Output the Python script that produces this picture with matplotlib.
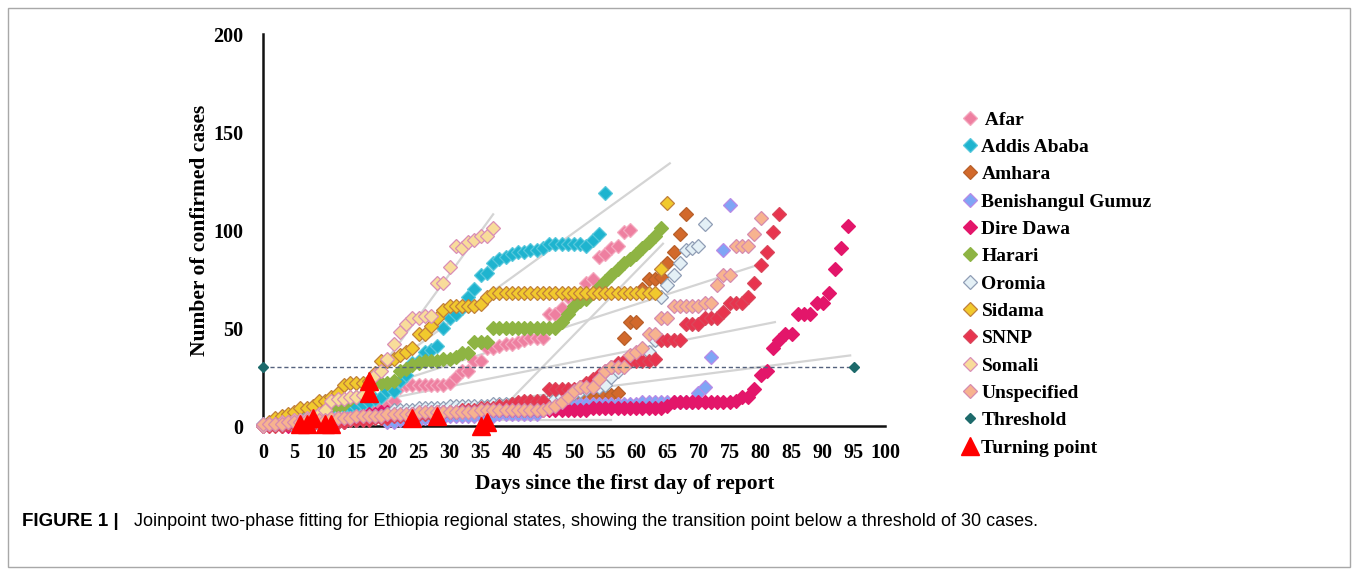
import matplotlib
matplotlib.use('Agg')
import matplotlib.pyplot as plt
import numpy as np
from matplotlib.patches import Rectangle

# cumulative confirmed cases per region, one value per day from the start day
afar_start = 0
afar = [0, 0, 1, 1, 1, 2, 2, 2, 3, 3, 4, 4, 5, 5, 6, 7,
        8, 9, 10, 10, 10, 13, 20, 21, 21, 21, 21, 21, 21, 21, 22, 25, 28, 28, 33, 33,
        40, 40, 41, 42, 42, 43, 44, 45, 45, 45, 57, 57, 60, 66, 66, 66, 73, 75, 86, 88,
        91, 92, 99, 100]

addis_start = 0
addis = [1, 1, 2, 2, 3, 3, 4, 5, 6, 7, 8, 9, 10,
         10, 10, 10, 11, 12, 14, 15, 18, 18, 23, 26, 32, 33, 38, 39, 41, 50, 55, 57, 60,
         66, 70, 77, 78, 83, 85, 86, 88, 89, 89, 90, 90, 91, 93, 93, 93, 93, 93, 93, 92,
         95, 98, 119]

amhara_start = 5
amhara = [1, 1, 1, 2, 2, 2, 2, 3, 3, 3, 4, 4, 4, 5, 5, 5, 5, 6, 6, 6,
          6, 7, 7, 7, 7, 8, 8, 8, 8, 9, 9, 9, 10, 10, 10, 11, 11, 11, 12, 12,
          12, 13, 13, 13, 14, 14, 14, 15, 15, 15, 16, 16, 17,
          45, 53, 53, 70, 75, 75, 76, 83, 89, 98, 108]

benishangul_start = 20
benishangul = [2, 2, 3, 3, 3, 3, 4, 4, 4, 4, 5, 5, 5, 5, 5, 5, 5, 5, 6, 6, 6, 6, 6, 6, 6,
               10, 11, 11, 11, 11, 11, 11, 11, 11, 11, 11, 11, 11, 11, 11, 11, 12, 12, 12,
               12, 12, 12, 12, 12, 12,
               17, 20, 35, np.nan, 90, 113]

dire_dawa_start = 3
dire_dawa = [0, 0, 0, 1, 1, 1, 1, 2, 2, 2, 2, 3, 3,
             5, 6, 6, 7, 7, 7, 7, 7, 7, 7, 7, 7, 7, 7, 8, 8, 8, 8, 8, 8,
             8, 8, 8, 8, 8, 8, 8, 8, 8, 8, 8, 8, 8, 8, 8, 8, 8, 9, 9, 9,
             9, 9, 9, 9, 9, 9, 9, 9, 9, 10, 12, 12, 12, 12,
             12, 12, 12, 12, 12, 12, 13, 15, 15, 19, 26, 28, 40, 44, 47, 47, 57, 57, 57,
             63, 63, 68, 80, 91, 102]

harari_start = 5
harari = [2, 3, 4, 6, 8,
          10, 10, 10, 11, 14, 15, 16, 19, 22, 22, 22, 23, 28, 29, 31, 32, 33, 33, 33, 34,
          34, 35, 37, 37, 43, 43, 43, 50, 50, 50, 50, 50, 50, 50, 50, 50, 50, 50, 53, 57,
          61, 64, 65, 68, 71, 74, 77, 80, 83, 85, 88, 91, 94, 97, 101]

oromia_start = 5
oromia = [0, 0, 1, 1, 1, 2, 2, 2, 3, 3, 3, 4, 4, 5, 5, 6,
          8, 8, 8, 8, 9, 9, 9, 9, 9, 10, 10, 10, 10, 10, 10, 10, 11, 11, 11, 11, 11, 11,
          12, 12, 13,
          13, 14, 15, 15, 17, 18, 19, 20, 20, 21, 25, 28, 32, 33, 35, 36, 38, 44, 66, 72,
          77, 83, 90, 91, 92, 103]

sidama_start = 0
sidama = [0, 2, 4, 5, 6, 7, 9, 9, 10, 13, 13, 15, 17, 21, 22, 22, 22, 23, 27, 33, 33,
          34, 36, 38, 40, 47, 47, 51, 55, 59, 61, 61, 61, 61, 61, 62, 66, 68,
          68, 68, 68, 68, 68, 68, 68, 68, 68, 68, 68, 68, 68, 68, 68, 68, 68, 68, 68, 68,
          68, 68, 68, 68, 68, 68,
          80, 114]

snnp_start = 0
snnp = [0, 0, 0, 0, 1, 1, 1, 1, 1, 2, 2, 2, 2, 2, 3, 3, 3, 3, 4, 4, 4,
        5, 5, 5, 6, 6, 6, 6, 7, 7, 7, 7, 8, 8, 8, 9, 9, 9, 10, 10, 11,
        12, 13, 13, 13, 13, 19, 19, 19, 19, 19, 20, 22, 24, 26, 28, 30, 32, 33, 33, 33,
        33, 33, 34,
        44, 44, 44, 44, 52, 52, 52, 55, 55, 55, 58, 63, 63, 63, 66, 73, 82, 89, 99, 108]

somali_start = 0
somali = [0, 1, 1, 2, 2, 3, 3, 4, 5, 6, 8, 13, 14, 14, 15, 15, 16, 20, 26, 28, 34, 42,
          48, 52, 55, 55, 56, 56, 73, 73, 81, 92, 91, 94, 95, 97, 97, 101]

unspecified_start = 0
unspecified = [1, 1, 1, 1, 2, 2, 2, 3, 3, 3, 3, 4, 4, 4, 4, 5, 5, 5, 5, 5, 6,
               6, 6, 6, 6, 7, 7, 7, 7, 7, 7, 7, 7, 7, 7, 8, 8, 8, 8, 8, 8, 8, 8, 8, 8, 8,
               9, 10, 12, 15, 18, 20, 20, 20, 24, 28, 30, 30, 30, 36, 38, 40, 47, 47, 55,
               55, 61, 61, 61, 61, 61, 63, 63, 72, 77, 77, 92, 92, 92, 98, 106]

threshold_days = [0, 95]
threshold_vals = [30, 30]

turn_days = [6, 7, 8, 10, 11, 17, 17, 24, 28, 35, 36]
turn_vals = [1, 1, 4, 1, 1, 17, 23, 4, 5, 0, 2]

# second-phase fitted lines (start day, start value, end day, end value)
fit_x0 = [17, 17, 36, 17, 17, 11, 10]
fit_y0 = [21, 23, 1, 18, 12, 2, 3]
fit_x1 = [37, 65.4, 64.3, 79.4, 82.3, 94.4, 56]
fit_y1 = [108, 134, 93, 82, 53, 36, 3]

series = [
    (' Afar', afar_start, afar, '#EE7FA0', '#F4A9BF'),
    ('Addis Ababa', addis_start, addis, '#1EB4CF', '#58C8DC'),
    ('Amhara', amhara_start, amhara, '#D2692B', '#B8602A'),
    ('Benishangul Gumuz', benishangul_start, benishangul, '#7FA5F5', '#B98BE6'),
    ('Dire Dawa', dire_dawa_start, dire_dawa, '#E3166A', '#E3166A'),
    ('Harari', harari_start, harari, '#8EB443', '#8EB443'),
    ('Oromia', oromia_start, oromia, '#E4F0F6', '#8F9DB5'),
    ('Sidama', sidama_start, sidama, '#F1C92D', '#C1803A'),
    ('SNNP', snnp_start, snnp, '#E8344E', '#D9485C'),
    ('Somali', somali_start, somali, '#F8DC9A', '#D98EB5'),
    ('Unspecified', unspecified_start, unspecified, '#F7B38F', '#D68BAE'),
]

serif = 'Liberation Serif'

fig = plt.figure(figsize=(13.58, 5.69), dpi=100)
ax = fig.add_axes([263 / 1358, 143 / 569, 622 / 1358, 392 / 569])

for i in range(len(fit_x0)):
    ax.plot([fit_x0[i], fit_x1[i]], [fit_y0[i], fit_y1[i]], color='#D4D4D4', lw=1.6, zorder=1)

handles = []
z = 3
for name, start, vals, face, edge in series:
    days = np.arange(start, start + len(vals))
    h, = ax.plot(days, vals, linestyle='none', marker='D', markersize=7,
                 markerfacecolor=face, markeredgecolor=edge, markeredgewidth=0.9,
                 clip_on=False, zorder=z, label=name)
    handles.append(h)
    z += 1

ax.plot(threshold_days, threshold_vals, linestyle=(0, (3, 2)), color='#55627E', lw=1.0, zorder=z)
th, = ax.plot(threshold_days, threshold_vals, linestyle='none', marker='D', markersize=5.5,
              color='#1D6A6B', clip_on=False, zorder=z + 1, label='Threshold')
handles.append(th)
tp, = ax.plot(turn_days, turn_vals, linestyle='none', marker='^', markersize=13,
              color='#FF0000', clip_on=False, zorder=z + 2, label='Turning point')
handles.append(tp)

ax.set_xlim(0, 100)
ax.set_ylim(0, 200)
ax.set_xticks(np.arange(0, 101, 5))
ax.set_yticks([0, 50, 100, 150, 200])
ax.tick_params(length=0, labelsize=14.5)
ax.tick_params(axis='x', pad=12)
ax.tick_params(axis='y', pad=14)
for lab in ax.get_xticklabels() + ax.get_yticklabels():
    lab.set_fontfamily(serif)
    lab.set_fontweight('bold')
for s in ['top', 'right']:
    ax.spines[s].set_visible(False)
for s in ['left', 'bottom']:
    ax.spines[s].set_linewidth(1.8)
    ax.spines[s].set_color('#111111')

ax.set_ylabel('Number of confirmed cases', fontsize=15.5, fontweight='bold', family=serif)
ax.yaxis.set_label_coords((210 - 263) / 622, 0.5)
ax.set_xlabel('Days since the first day of report', fontsize=15.5, fontweight='bold', family=serif)
ax.xaxis.set_label_coords((625 - 263) / 622, -(474 - 426) / 392)

leg = fig.legend(handles=handles, loc='upper left', bbox_to_anchor=(963 / 1358, 1 - 111 / 569),
                 frameon=False, borderpad=0, borderaxespad=0, handlelength=0.75,
                 handletextpad=0.2, labelspacing=0.5,
                 prop={'family': serif, 'weight': 'bold', 'size': 14})

fig.patches.append(Rectangle((8 / 1358, 2 / 569), 1342 / 1358, 559 / 569, transform=fig.transFigure,
                             fill=False, edgecolor='#A8A8A8', lw=1.0))

fig.text(22 / 1358, 1 - 521 / 569, 'FIGURE 1 |', fontsize=13.5, fontweight='bold',
         family='Liberation Sans', va='center', ha='left')
fig.text(134 / 1358, 1 - 521 / 569,
         'Joinpoint two-phase fitting for Ethiopia regional states, showing the transition '
         'point below a threshold of 30 cases.',
         fontsize=13, family='Liberation Sans', va='center', ha='left')

fig.savefig('out.png', dpi=100)
